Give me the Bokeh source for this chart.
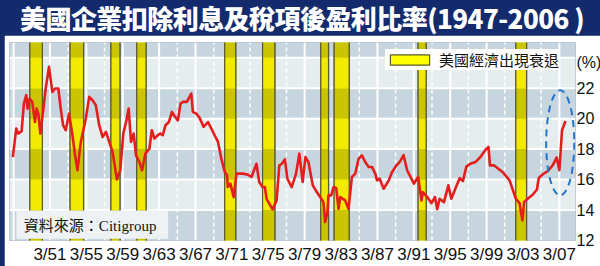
from bokeh.plotting import figure
from bokeh.models import Range1d, FixedTicker, LinearAxis, Legend, LegendItem, Div
from bokeh.layouts import column
from bokeh.core.properties import value
from bokeh.embed import file_html
from bokeh.resources import INLINE

# ---------------- data ----------------
TITLE = "美國企業扣除利息及稅項後盈利比率(1947-2006 )"
SOURCE_TEXT = "資料來源：Citigroup"
LEGEND_LABEL = "美國經濟出現衰退"
UNIT_LABEL = "(%)"

years = [1947.09, 1947.46, 1947.68, 1948.05, 1948.30, 1948.56, 1948.71, 1948.93, 1949.22, 1949.52,
         1949.70, 1949.89, 1950.11, 1950.40, 1950.70, 1951.06, 1951.43, 1951.73, 1952.09, 1952.35,
         1952.61, 1952.90, 1953.27, 1953.64, 1953.93, 1954.19, 1954.56, 1955.11, 1955.48, 1955.85,
         1956.21, 1956.58, 1956.95, 1957.32, 1957.69, 1958.05, 1958.53, 1958.90, 1959.23, 1959.53,
         1959.82, 1960.08, 1960.37, 1960.63, 1961.00, 1961.29, 1961.66, 1962.10, 1962.36, 1962.65,
         1963.02, 1963.28, 1963.57, 1963.87, 1964.24, 1964.57, 1964.93, 1965.23, 1965.52, 1965.78,
         1966.22, 1966.70, 1966.88, 1967.25, 1967.62, 1968.06, 1968.54, 1968.91, 1969.27, 1969.64,
         1970.01, 1970.38, 1970.64, 1970.72, 1971.00, 1971.37, 1971.67, 1972.40, 1972.95, 1973.32,
         1973.87, 1974.17, 1974.54, 1974.79, 1974.98, 1975.64, 1976.08, 1976.38, 1976.67, 1977.00,
         1977.26, 1977.74, 1978.22, 1978.58, 1978.95, 1979.25, 1979.58, 1980.06, 1980.50, 1980.87,
         1981.23, 1981.42, 1981.68, 1981.78, 1982.08, 1982.34, 1982.63, 1982.89, 1983.07, 1983.62,
         1983.99, 1984.36, 1984.73, 1985.10, 1985.46, 1985.83, 1986.20, 1986.57, 1986.93, 1987.12,
         1987.41, 1987.85, 1988.41, 1988.78, 1989.22, 1989.66, 1990.04, 1990.43, 1991.17, 1991.64,
         1992.01, 1992.16, 1992.64, 1993.11, 1993.49, 1993.74, 1994.00, 1994.48, 1994.96, 1995.29,
         1995.76, 1996.22, 1996.56, 1996.94, 1997.38, 1997.94, 1998.49, 1999.07, 1999.37, 1999.54,
         2000.00, 2000.92, 2001.69, 2002.38, 2002.79, 2003.10, 2003.29, 2003.68, 2004.23, 2004.70,
         2004.90, 2005.35, 2005.88, 2006.43, 2006.87, 2007.17, 2007.46, 2007.84]
ratio = [17.48, 19.35, 19.02, 19.17, 20.99, 21.54, 20.66, 21.32, 21.10, 19.78,
         20.66, 20.33, 19.02, 20.44, 21.98, 23.40, 21.76, 21.98, 21.98, 20.66,
         19.57, 19.24, 20.33, 18.91, 17.59, 16.61, 18.47, 20.00, 21.43, 21.21,
         20.88, 19.57, 18.80, 19.13, 18.47, 17.81, 16.01, 16.61, 19.02, 19.78,
         20.66, 18.47, 19.02, 17.59, 17.15, 16.61, 17.70, 18.03, 19.24, 18.69,
         18.91, 19.02, 18.91, 19.57, 19.78, 20.44, 20.11, 19.89, 20.99, 21.10,
         21.10, 21.65, 20.44, 20.33, 20.05, 19.46, 19.78, 19.35, 18.91, 18.47,
         17.37, 16.50, 16.28, 15.51, 15.73, 14.85, 16.39, 16.39, 16.32, 16.17,
         17.04, 15.84, 15.51, 15.51, 14.74, 14.04, 14.63, 16.93, 17.04, 17.33,
         16.06, 15.51, 16.39, 17.70, 15.84, 17.48, 17.15, 15.62, 15.18, 14.85,
         14.52, 13.21, 13.86, 14.96, 14.96, 15.51, 15.45, 14.08, 14.85, 14.63,
         14.08, 16.17, 16.39, 17.37, 17.59, 17.15, 16.83, 16.83, 16.39, 15.95,
         16.06, 15.40, 15.95, 16.50, 16.90, 17.20, 17.60, 16.61, 15.73, 16.17,
         14.63, 15.18, 14.85, 14.45, 14.85, 14.05, 14.74, 14.52, 15.62, 14.74,
         15.45, 16.10, 15.90, 16.85, 17.04, 17.15, 17.48, 17.98, 18.14, 16.93,
         16.93, 16.50, 15.95, 14.74, 14.45, 13.32, 14.52, 14.74, 15.00, 15.35,
         16.10, 16.35, 16.55, 16.93, 17.45, 16.61, 19.24, 19.85]

# recession bands as drawn (start, end)
rec_start = [1948.96, 1953.38, 1957.87, 1960.71, 1970.38, 1974.54, 1980.94, 1982.41, 1991.64, 2002.38]
rec_end   = [1950.33, 1954.86, 1958.86, 1961.73, 1971.59, 1975.89, 1981.79, 1984.06, 1992.52, 2003.56]

tick_labels = ["3/51", "3/55", "3/59", "3/63", "3/67", "3/71", "3/75", "3/79",
               "3/83", "3/87", "3/91", "3/95", "3/99", "3/03", "3/07"]
tick_years = [1951, 1955, 1959, 1963, 1967, 1971, 1975, 1979, 1983, 1987, 1991, 1995, 1999, 2003, 2007]
y_ticks = [12, 14, 16, 18, 20, 22]
y_labels = ["12", "14", "16", "18", "20", "22"]
UNIT_POS = 23.7
band_edges = [12, 14, 16, 18, 20, 22, 24, 25]

# highlighted region (dashed ellipse)
ell_x, ell_y, ell_w, ell_h = 2007.26, 18.41, 3.09, 6.9

# ---------------- styles ----------------
NAVY = "#132a6c"
DARK_ROW = "#c7d5df"
LIGHT_ROW = "#e6edef"
YEL_DARK = "#cbc400"
YEL_LIGHT = "#f2ea00"
EDGE = "#5a5a36"
RED = "#e41d1d"
BLUE = "#2276cc"

X0, X1 = 1946.72, 2008.94
Y0, Y1 = 12, 25

# width/height include the margin in this layout
p = figure(width=600, height=231, x_range=Range1d(X0, X1), y_range=Range1d(Y0, Y1),
           output_backend="svg", toolbar_location=None,
           x_axis_location=None, y_axis_location=None)
p.margin = (0, 0, 4, 4)
p.min_border = 0
p.min_border_left = 5
p.min_border_right = 27
p.min_border_top = 7
p.min_border_bottom = 22
p.border_fill_color = "white"
p.background_fill_color = LIGHT_ROW
p.outline_line_color = None
p.xgrid.visible = False
p.ygrid.visible = False

# background rows
n_rows = len(band_edges) - 1
row_colors = [DARK_ROW if i % 2 == 0 else LIGHT_ROW for i in range(n_rows)]
p.quad(left=[X0] * n_rows, right=[X1] * n_rows, bottom=band_edges[:-1], top=band_edges[1:],
       fill_color=row_colors, line_color=None)

# white grid lines
h_lines = band_edges[1:-1]
p.segment(x0=[X0] * len(h_lines), x1=[X1] * len(h_lines), y0=h_lines, y1=h_lines,
          line_color="white", line_width=2)
tick_pos = [y + 2 / 12 for y in tick_years]
solid_x = [tick_pos[0] - 4] + tick_pos
p.segment(x0=solid_x, x1=solid_x, y0=[Y0] * len(solid_x), y1=[Y1] * len(solid_x),
          line_color="white", line_width=2)
dash_x = [x - 2 for x in tick_pos] + [tick_pos[-1] + 2]
dash_x = [x for x in dash_x if X0 < x < X1]
p.segment(x0=dash_x, x1=dash_x, y0=[Y0] * len(dash_x), y1=[Y1] * len(dash_x),
          line_color="white", line_width=1.5, line_dash="4 3")

# recession bands: full-height band (also the legend swatch), then tinted per row
n_rec = len(rec_start)
rec_r = p.quad(left=rec_start, right=rec_end, bottom=[Y0 - 1] * n_rec, top=[Y1 + 1] * n_rec,
               fill_color="#ffff00", line_color=EDGE, line_width=1.2)
ql, qr, qb, qt, qc = [], [], [], [], []
for s, e in zip(rec_start, rec_end):
    for j in range(n_rows):
        ql.append(s); qr.append(e)
        qb.append(band_edges[j]); qt.append(band_edges[j + 1])
        qc.append(YEL_DARK if j % 2 == 0 else YEL_LIGHT)
p.quad(left=ql, right=qr, bottom=qb, top=qt, fill_color=qc, line_color=None)
edges_x = rec_start + rec_end
p.segment(x0=edges_x, x1=edges_x, y0=[Y0] * len(edges_x), y1=[Y1] * len(edges_x),
          line_color=EDGE, line_width=1.2)

# source box
p.quad(left=[1947.49], right=[1964.16], bottom=[12.11], top=[13.97],
       fill_color="#eef2f4", line_color=None)
p.text(x=[1948.3], y=[12.92], text=[SOURCE_TEXT],
       text_font=value("'Liberation Serif', 'Noto Sans CJK TC', serif"),
       text_font_size="15px", text_baseline="middle", text_color="#111111")

# main series
p.line(years, ratio, line_color=RED, line_width=2.6, line_join="round")

# dashed ellipse
p.ellipse(x=[ell_x], y=[ell_y], width=[ell_w], height=[ell_h], fill_color=None,
          line_color=BLUE, line_width=2, line_dash="7 5")

legend = Legend(items=[LegendItem(label=LEGEND_LABEL, renderers=[rec_r])],
                location=(376, 170), orientation="vertical",
                background_fill_color="white", background_fill_alpha=1.0,
                border_line_color=None, padding=3, margin=0, spacing=0,
                glyph_width=49, glyph_height=13, label_standoff=5, label_height=19,
                label_text_font="Noto Sans CJK TC", label_text_font_size="15px",
                label_text_color="#111111")
p.add_layout(legend, "center")

# axes
xaxis = LinearAxis(ticker=FixedTicker(ticks=tick_pos),
                   major_label_overrides={t: l for t, l in zip(tick_pos, tick_labels)})
y_overrides = {t: l for t, l in zip(y_ticks, y_labels)}
y_overrides[UNIT_POS] = UNIT_LABEL
yaxis = LinearAxis(ticker=FixedTicker(ticks=y_ticks + [UNIT_POS]),
                   major_label_overrides=y_overrides)
for ax in (xaxis, yaxis):
    ax.axis_line_color = None
    ax.major_tick_line_color = None
    ax.minor_tick_line_color = None
    ax.major_tick_out = 0
    ax.major_tick_in = 0
    ax.minor_tick_out = 0
    ax.minor_tick_in = 0
    ax.major_label_text_color = "#111111"
xaxis.major_label_standoff = 4
xaxis.major_label_text_font = "'Liberation Sans Narrow', 'Liberation Sans', sans-serif"
xaxis.major_label_text_font_size = "17px"
yaxis.major_label_standoff = 1
yaxis.major_label_text_font = "Liberation Sans"
yaxis.major_label_text_font_size = "16px"
p.add_layout(xaxis, "below")
p.add_layout(yaxis, "right")

title_div = Div(
    text=('<div style="color:#ffffff;font-family:\'Noto Sans CJK TC\',sans-serif;'
          'font-weight:900;font-size:26px;line-height:35px;white-space:nowrap;'
          'letter-spacing:-0.55px;padding-left:20px;">' + TITLE + '</div>'),
    width=600, height=35, margin=(0, 0, 0, 0))

layout = column(title_div, p, width=600, height=266, margin=(0, 0, 0, 0),
                styles={"background-color": NAVY})

open("out.html", "w").write(file_html(layout, INLINE))
